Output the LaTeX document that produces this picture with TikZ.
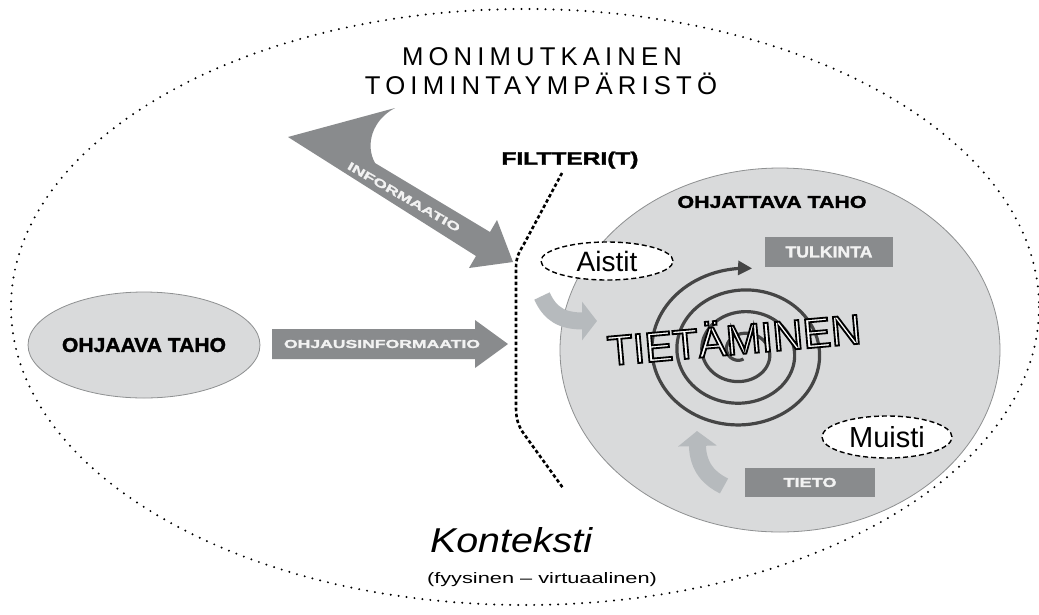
\documentclass[tikz,border=0pt]{standalone}
\usepackage{fontspec}
\setmainfont{Liberation Sans}
\usepackage{graphicx}
\usetikzlibrary{arrows.meta,shapes.geometric}
\newfontfamily\spacedfont[LetterSpace=20]{Liberation Sans}
\newfontfamily\heavyfont[FakeBold=1.5]{Liberation Sans Bold}
\definecolor{circlefill}{HTML}{D9DADB}
\definecolor{circleline}{HTML}{8E9091}
\definecolor{mydark}{HTML}{898B8D}
\definecolor{lightarr}{HTML}{B6BABD}
\definecolor{spiralc}{HTML}{454545}
\definecolor{labelwhite}{HTML}{F2F2F2}
\newcommand{\hv}[3]{\resizebox{#1pt}{#2pt}{\fontsize{20pt}{20pt}\heavyfont #3}}
\newcommand{\outlinetext}[1]{\textcolor{white}{\special{pdf:literal direct 0 G 2 Tr 1.8 w}#1\special{pdf:literal direct 0 Tr}}}
\begin{document}
\begin{tikzpicture}[x=1pt,y=-1pt,
  outerdots/.style={draw=black, line width=2.2pt, line cap=round, dash pattern=on 0pt off 8pt},
  filterline/.style={draw=black, line width=2.6pt, dash pattern=on 3.5pt off 2.5pt},
  greyell/.style={ellipse, draw=circleline, fill=circlefill, line width=0.8pt, inner sep=0pt},
  dashell/.style={ellipse, draw=black, fill=white, line width=1.4pt, dash pattern=on 5pt off 3pt, inner sep=0pt},
  darkbox/.style={rectangle, fill=mydark, inner sep=0pt, text=labelwhite},
  lightarrow/.style={draw=lightarr, line width=17pt, -{Triangle[width=38pt,length=15pt]}},
  spiralline/.style={draw=spiralc, line width=3.2pt, -{Triangle[width=14pt,length=14pt]}},
  plainlabel/.style={inner sep=0pt}
]
\useasboundingbox (0,0) rectangle (1039,614);
\fill[white] (0,0) rectangle (1039,614);

% outer context ellipse
\draw[outerdots] (525,307) ellipse [x radius=514, y radius=298];

% title
\node[plainlabel] (title1) at (542,57) {\resizebox{280pt}{!}{\fontsize{24pt}{24pt}\spacedfont MONIMUTKAINEN}};
\node[plainlabel] (title2) at (541,84) {\resizebox{352pt}{!}{\fontsize{24pt}{24pt}\spacedfont TOIMINTAYMPÄRISTÖ}};

% INFORMAATIO arrow
\fill[mydark] (288,137) -- (476,256) -- (469,268) -- (513,262) -- (497,220) -- (490,232)
  -- (375,163) .. controls (365,145) and (372,120) .. (395,108) -- cycle;
\node[plainlabel, rotate=-30, text=labelwhite] (infolabel) at (404,197) {\hv{128}{8}{INFORMAATIO}};

% OHJAUSINFORMAATIO arrow
\fill[mydark] (272,329) -- (475,329) -- (475,320) -- (508,344) -- (475,368) -- (475,359) -- (272,359) -- cycle;
\node[plainlabel, text=labelwhite] (ohjauslabel) at (382,344) {\hv{196}{8}{OHJAUSINFORMAATIO}};

% filter label
\node[plainlabel] (filtteri) at (570,160) {\hv{137}{13}{FILTTERI(T)}};

% big circle
\node[greyell, minimum width=440pt, minimum height=364pt] (ohjattava) at (780,350) {};
\node[plainlabel] (ohjattavalabel) at (772,202) {\hv{189}{12}{OHJATTAVA TAHO}};

% left ellipse
\node[greyell, minimum width=208pt, minimum height=106pt] (ohjaava) at (144,345) {\hv{164}{14}{OHJAAVA TAHO}};

% boxes
\node[darkbox, minimum width=128pt, minimum height=30pt] (tulkinta) at (829,252) {\hv{87}{11}{TULKINTA}};
\node[darkbox, minimum width=130pt, minimum height=29pt] (tieto) at (810,482.5) {\hv{53}{9}{TIETO}};

% spiral
\draw[spiralline] plot[domain=-1000:276, samples=400, variable=\t]
  ({742 + (90+(\t-180)/360*25)*cos(\t)}, {352 + 0.87*(90+(\t-180)/360*25)*sin(\t)});

% TIETAMINEN
\node[plainlabel, rotate=5] (tietaminen) at (734,337) {\fontsize{42pt}{42pt}\selectfont\outlinetext{TIETÄMINEN}};

% light arrows
\draw[lightarrow] (542,296) .. controls (550,314) and (562,321) .. (597,321);
\draw[lightarrow] (724,486) .. controls (710,479) and (698,468) .. (697,431);

% sense and memory ellipses
\node[dashell, minimum width=132pt, minimum height=38pt] (aistit) at (607,261) {\fontsize{28pt}{28pt}\selectfont Aistit};
\node[dashell, minimum width=130pt, minimum height=42pt] (muisti) at (887,437) {\fontsize{29pt}{29pt}\selectfont Muisti};

% filter line
\draw[filterline] (562,173) -- (524,244) .. controls (518,254) and (516,258) .. (516,268)
  -- (516,408) .. controls (516,420) and (519,427) .. (524,434) -- (563,488);

% context
\node[plainlabel] (konteksti) at (511,540) {\resizebox{162pt}{25pt}{\fontsize{36pt}{36pt}\selectfont\itshape Konteksti}};
\node[plainlabel] (kontekstisub) at (542,580) {\resizebox{230pt}{11pt}{\fontsize{16pt}{16pt}\selectfont (fyysinen – virtuaalinen)}};
\end{tikzpicture}
\end{document}
